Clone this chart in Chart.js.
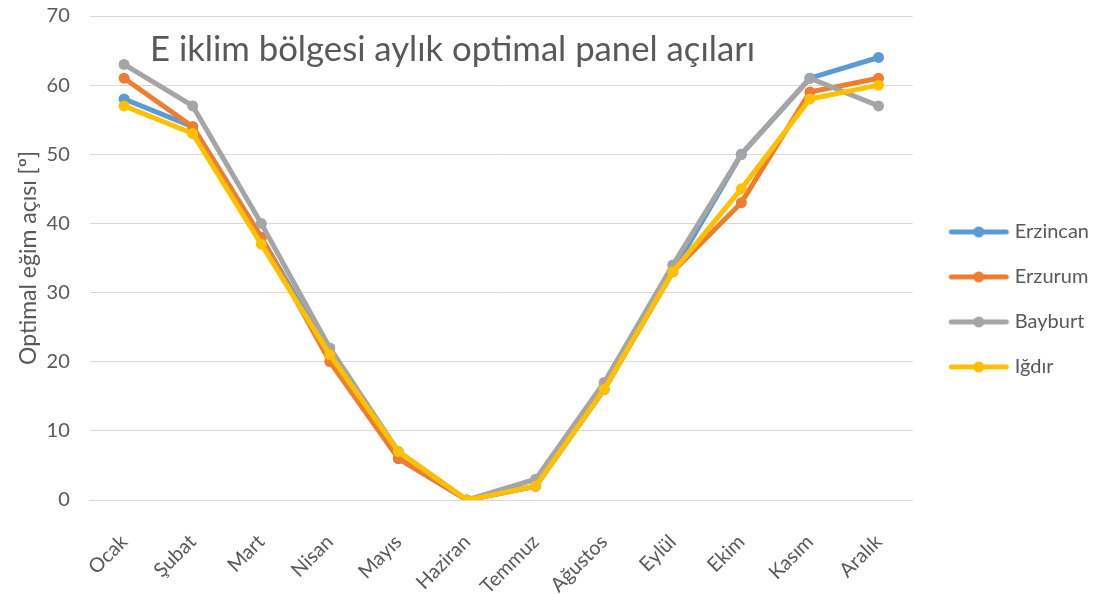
<!DOCTYPE html>
<html>
<head>
<meta charset="utf-8">
<script src="https://cdn.jsdelivr.net/npm/chart.js@4"></script>
<style>
  html, body { margin: 0; padding: 0; background: #fff; }
  #wrap { width: 1104px; height: 594px; }
</style>
</head>
<body>
<div id="wrap"><canvas id="myChart" width="1104" height="594"></canvas></div>
<script>
var months = ["Ocak", "Şubat", "Mart", "Nisan", "Mayıs", "Haziran", "Temmuz", "Ağustos", "Eylül", "Ekim", "Kasım", "Aralık"];
var erzincan = [58, 54, 38, 21, 6, 0, 2, 16, 33, 50, 61, 64];
var erzurum = [61, 54, 38, 20, 6, 0, 2, 16, 33, 43, 59, 61];
var bayburt = [63, 57, 40, 22, 7, 0, 3, 17, 34, 50, 61, 57];
var igdir = [57, 53, 37, 21, 7, 0, 2, 16, 33, 45, 58, 60];
var titleText = "E iklim bölgesi aylık optimal panel açıları";
var fontName = "Lato, 'Open Sans', sans-serif";
var textColor = "#595959";

// legend marker: line with a dot, shifted right inside a wider box
function legendIcon(color) {
  var c = document.createElement("canvas");
  c.width = 82;
  c.height = 14;
  var g = c.getContext("2d");
  g.strokeStyle = color;
  g.lineWidth = 5;
  g.lineCap = "round";
  g.beginPath();
  g.moveTo(21, 7);
  g.lineTo(76, 7);
  g.stroke();
  g.fillStyle = color;
  g.beginPath();
  g.arc(48.5, 7, 5.5, 0, Math.PI * 2);
  g.fill();
  return c;
}

function makeSet(label, data, color, order) {
  return {
    label: label,
    data: data,
    borderColor: color,
    backgroundColor: color,
    borderWidth: 5,
    pointRadius: 5.5,
    pointHoverRadius: 5.5,
    pointBorderWidth: 0,
    fill: false,
    tension: 0,
    order: order
  };
}

var titlePlugin = {
  id: "innerTitle",
  afterDatasetsDraw: function (chart) {
    var ctx = chart.ctx;
    ctx.save();
    ctx.font = "34.7px " + fontName;
    ctx.fillStyle = textColor;
    ctx.textBaseline = "alphabetic";
    ctx.fillText(titleText, 150, 61);
    ctx.restore();
  }
};

var chartConfig = {
  type: "line",
  data: {
    labels: months,
    datasets: [
      makeSet("Erzincan", erzincan, "#5B9BD5", 4),
      makeSet("Erzurum", erzurum, "#ED7D31", 3),
      makeSet("Bayburt", bayburt, "#A5A5A5", 2),
      makeSet("Iğdır", igdir, "#FFC000", 1)
    ]
  },
  options: {
    responsive: false,
    animation: false,
    layout: { padding: { top: 0, right: 5, bottom: 0, left: 6 } },
    plugins: {
      title: { display: false },
      tooltip: { enabled: false },
      legend: {
        position: "right",
        title: { display: true, text: " ", font: { size: 4 }, padding: 0 },
        labels: {
          usePointStyle: true,
          pointStyleWidth: 67,
          padding: 25,
          color: textColor,
          font: { family: fontName, size: 20 },
          generateLabels: function (chart) {
            return chart.data.datasets.map(function (ds, i) {
              return {
                text: ds.label,
                fillStyle: ds.borderColor,
                strokeStyle: ds.borderColor,
                fontColor: textColor,
                lineWidth: 0,
                pointStyle: legendIcon(ds.borderColor),
                hidden: false,
                datasetIndex: i
              };
            });
          }
        }
      }
    },
    scales: {
      x: {
        offset: true,
        grid: { display: false },
        border: { display: true, color: "#d9d9d9" },
        afterFit: function (scale) {
          scale.height = 94;
        },
        ticks: {
          color: textColor,
          font: { family: fontName, size: 20 },
          minRotation: 45,
          maxRotation: 45,
          padding: 22
        }
      },
      y: {
        min: 0,
        max: 70,
        grid: { color: "#d9d9d9", drawTicks: true, tickLength: 16, tickColor: "rgba(0,0,0,0)" },
        border: { display: false },
        ticks: {
          stepSize: 10,
          color: textColor,
          font: { family: fontName, size: 20 },
          padding: 4
        },
        title: {
          display: true,
          text: "Optimal eğim açısı [º]",
          color: textColor,
          font: { family: fontName, size: 23 },
          padding: { top: 9, bottom: 0 }
        }
      }
    }
  },
  plugins: [titlePlugin]
};

var myChart = new Chart(document.getElementById("myChart"), chartConfig);
</script>
</body>
</html>
